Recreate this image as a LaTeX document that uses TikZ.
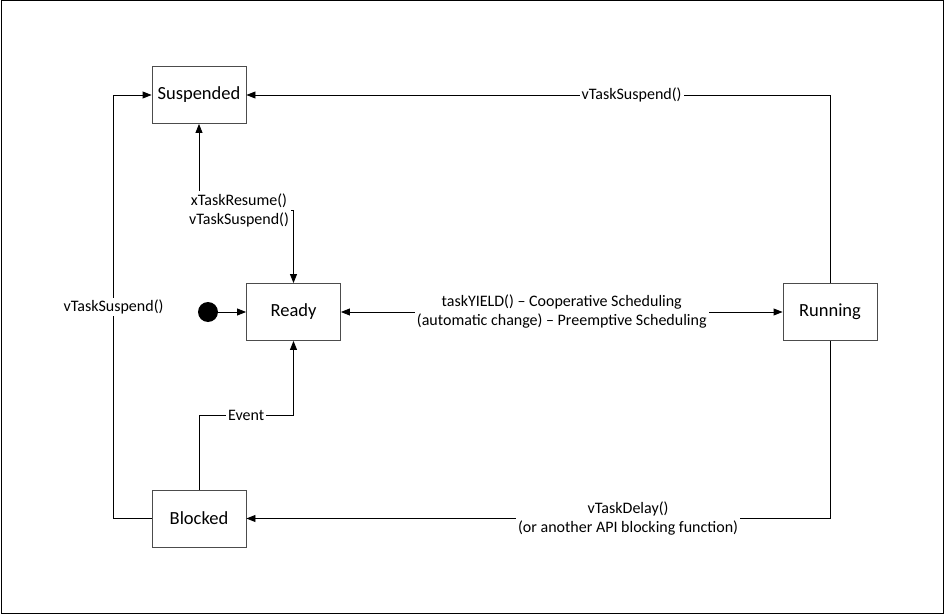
\documentclass[tikz,border=0pt]{standalone}
\usepackage{fontspec}
\setmainfont{Carlito}
\usetikzlibrary{arrows.meta,positioning}

\begin{document}
\begin{tikzpicture}[x=1pt, y=-1pt,
  state/.style={draw=black!70, line width=0.9pt, minimum width=94pt, minimum height=57pt, inner sep=0pt, font=\fontsize{18.5}{20}\selectfont},
  lab/.style={fill=white, inner sep=2pt, align=center, font=\fontsize{16}{19}\selectfont},
  trans/.style={line width=0.9pt, -{Triangle[length=9pt,width=7pt]}}]
%frame
\useasboundingbox (0,0) rectangle (946,615);
\draw[line width=1pt] (1.5,1) rectangle (943.5,613);

%states
\node[state] (susp) at (199,95) {Suspended};
\node[state] (ready) at (293.5,312) {Ready};
\node[state] (run) at (830,312) {Running};
\node[state] (block) at (199,518.5) {Blocked};
\node[circle, fill, minimum size=20pt, inner sep=0pt] (init) at (208,312) {};

%transitions
\node[lab] (resume) at (239,210) {xTaskResume()\\vTaskSuspend()};
\draw[trans] (resume.north -| susp.south) -- (susp);
\draw[trans] (resume.east) -| (ready.north);

\draw[trans] (init) -- (ready);

\draw[line width=0.9pt, {Triangle[length=9pt,width=7pt]}-{Triangle[length=9pt,width=7pt]}] (ready) -- node[lab] (yield) {taskYIELD() – Cooperative Scheduling\\(automatic change) – Preemptive Scheduling} (run);

\draw[trans] (run.north) |- node[lab, pos=0.67] (suspr) {vTaskSuspend()} (susp.east);
\draw[trans] (run.south) |- node[lab, pos=0.673] (delay) {vTaskDelay()\\(or another API blocking function)} (block.east);
\draw[trans] (block.west) -- ++(-38,0) |- node[lab, pos=0.25] (suspl) {vTaskSuspend()} (susp.west);
\draw[trans] (block.north) -- ++(0,-74) -| node[lab, pos=0.25] (event) {Event} (ready.south);
\end{tikzpicture}
\end{document}
